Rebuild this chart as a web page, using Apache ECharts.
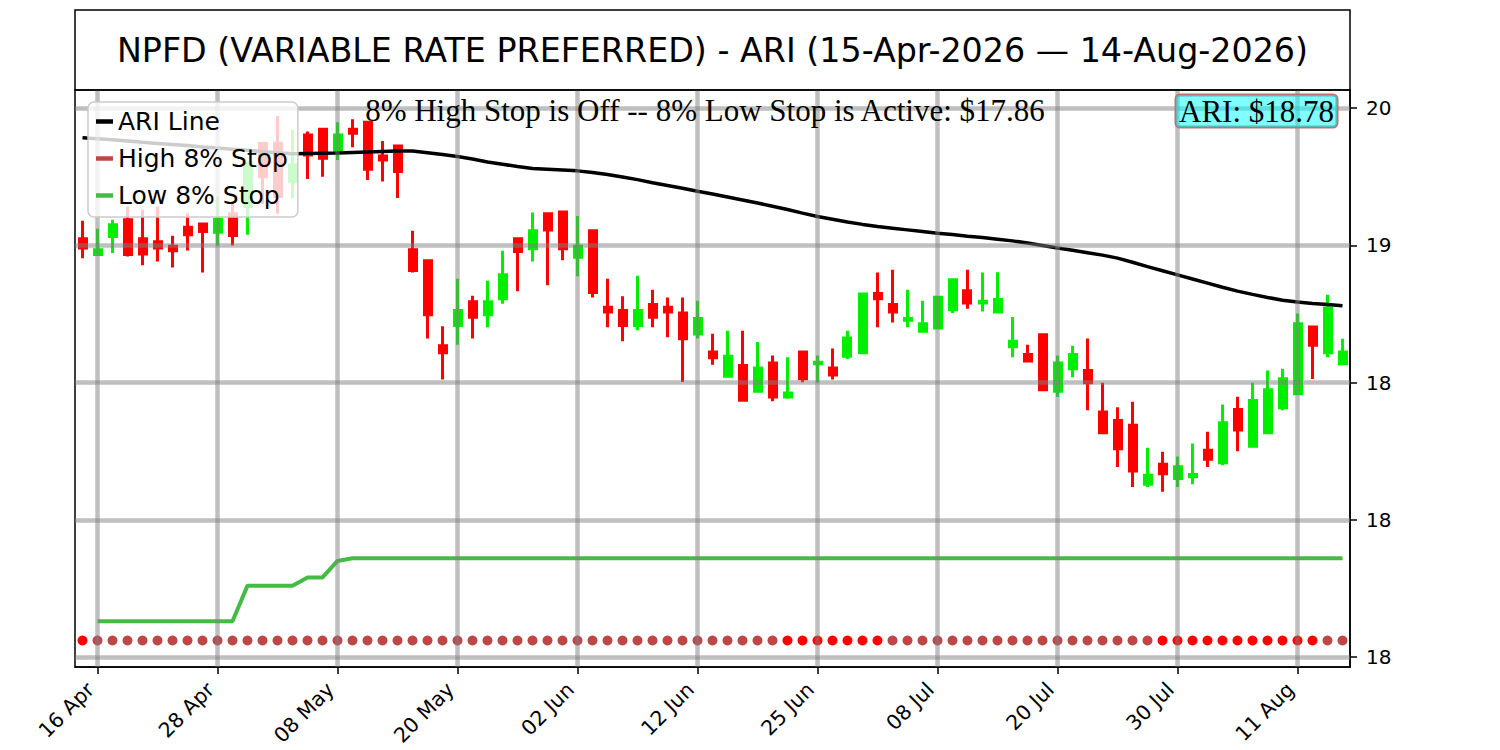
<!DOCTYPE html>
<html><head><meta charset="utf-8">
<script src="https://cdn.jsdelivr.net/npm/echarts@6/dist/echarts.min.js"></script>
<style>html,body{margin:0;padding:0;background:#fff}#c{width:1500px;height:750px}</style>
</head><body><div id="c"></div>
<script>
const dates = ['15 Apr','16 Apr','17 Apr','20 Apr','21 Apr','22 Apr','23 Apr','24 Apr','27 Apr','28 Apr','29 Apr','30 Apr',
'01 May','04 May','05 May','06 May','07 May','08 May','11 May','12 May','13 May','14 May','15 May','18 May','19 May','20 May','21 May','22 May','26 May','27 May','28 May','29 May',
'01 Jun','02 Jun','03 Jun','04 Jun','05 Jun','08 Jun','09 Jun','10 Jun','11 Jun','12 Jun','15 Jun','16 Jun','17 Jun','18 Jun','22 Jun','23 Jun','24 Jun','25 Jun','26 Jun','29 Jun','30 Jun',
'01 Jul','02 Jul','06 Jul','07 Jul','08 Jul','09 Jul','10 Jul','13 Jul','14 Jul','15 Jul','16 Jul','17 Jul','20 Jul','21 Jul','22 Jul','23 Jul','24 Jul','27 Jul','28 Jul','29 Jul','30 Jul','31 Jul',
'03 Aug','04 Aug','05 Aug','06 Aug','07 Aug','10 Aug','11 Aug','12 Aug','13 Aug','14 Aug'];

const xTickLabels = ['16 Apr','28 Apr','08 May','20 May','02 Jun','12 Jun','25 Jun','08 Jul','20 Jul','30 Jul','11 Aug'];
const yTickValues = [17.5, 18.0, 18.5, 19.0, 19.5];
const yTickLabels = ['18', '18', '18', '19', '20'];

const opens = [19.024,18.966,19.032,19.093,19.024,19.013,18.996,19.066,19.077,19.047,
19.115,19.141,19.371,19.372,19.232,19.402,19.423,19.341,19.423,19.448,
19.325,19.362,18.984,18.944,18.634,18.708,18.794,18.747,18.805,19.024,
18.987,19.115,19.121,18.956,19.053,18.774,18.762,18.708,18.784,18.774,
18.753,18.677,18.611,18.523,18.562,18.468,18.571,18.447,18.611,18.568,
18.553,18.596,18.608,18.824,18.784,18.727,18.687,18.699,18.765,18.834,
18.790,18.757,18.630,18.602,18.674,18.468,18.550,18.544,18.393,18.362,
18.344,18.129,18.202,18.150,18.157,18.253,18.208,18.402,18.268,18.317,
18.408,18.459,18.702,18.608,18.568];

const closes = [18.990,18.984,19.075,18.966,18.968,18.990,18.980,19.038,19.050,19.095,
19.036,19.299,19.250,19.178,19.293,19.329,19.317,19.402,19.408,19.277,
19.311,19.269,18.908,18.747,18.608,18.762,18.738,18.794,18.893,18.977,
19.053,19.056,18.987,18.996,18.828,18.757,18.708,18.762,18.738,18.757,
18.659,18.733,18.590,18.596,18.435,18.553,18.447,18.462,18.514,18.574,
18.527,18.662,18.822,18.805,18.757,18.733,18.714,18.811,18.874,18.790,
18.796,18.802,18.650,18.578,18.474,18.571,18.602,18.499,18.317,18.259,
18.178,18.162,18.168,18.193,18.165,18.220,18.353,18.327,18.434,18.474,
18.514,18.714,18.636,18.771,18.611];

const lows = [18.953,18.963,18.972,18.959,18.927,18.941,18.919,18.981,18.901,18.999,
18.999,19.038,19.150,19.115,19.172,19.241,19.250,19.311,19.357,19.238,
19.232,19.172,18.901,18.660,18.511,18.638,18.660,18.701,18.787,18.832,
18.941,18.854,18.945,18.887,18.810,18.701,18.650,18.690,18.701,18.665,
18.502,18.660,18.565,18.519,18.432,18.468,18.432,18.441,18.501,18.501,
18.511,18.586,18.608,18.701,18.719,18.701,18.687,18.696,18.753,18.769,
18.759,18.757,18.592,18.578,18.471,18.447,18.519,18.399,18.317,18.192,
18.119,18.119,18.102,18.119,18.129,18.192,18.199,18.250,18.268,18.317,
18.399,18.459,18.513,18.592,18.568];

const highs = [19.089,19.060,19.093,19.141,19.129,19.141,19.035,19.117,19.077,19.178,
19.159,19.305,19.371,19.471,19.420,19.414,19.423,19.448,19.459,19.452,
19.380,19.362,19.053,18.944,18.705,18.878,18.816,18.871,18.980,19.024,
19.119,19.119,19.121,19.107,19.053,18.878,18.814,18.889,18.838,18.810,
18.810,18.798,18.678,18.689,18.689,18.648,18.598,18.592,18.611,18.598,
18.624,18.689,18.822,18.901,18.911,18.838,18.798,18.816,18.874,18.911,
18.901,18.902,18.739,18.638,18.674,18.598,18.634,18.660,18.499,18.410,
18.430,18.262,18.248,18.230,18.278,18.321,18.420,18.448,18.499,18.544,
18.550,18.751,18.702,18.820,18.659];

const ariLine = [19.392,19.388,19.384,19.380,19.375,19.371,19.367,19.363,19.358,19.354,
19.350,19.346,19.341,19.337,19.333,19.334,19.335,19.336,19.338,19.340,
19.342,19.343,19.343,19.337,19.331,19.323,19.314,19.303,19.295,19.287,
19.280,19.277,19.274,19.271,19.265,19.258,19.249,19.239,19.228,19.218,
19.208,19.197,19.187,19.176,19.165,19.154,19.142,19.130,19.117,19.105,
19.095,19.085,19.076,19.068,19.062,19.056,19.050,19.044,19.039,19.033,
19.028,19.022,19.016,19.008,18.999,18.990,18.982,18.973,18.964,18.953,
18.938,18.922,18.907,18.892,18.877,18.862,18.847,18.833,18.821,18.810,
18.800,18.793,18.788,18.784,18.780];

const lowStop = [null,17.63,17.63,17.63,17.63,17.63,17.63,17.63,17.63,17.63,
17.63,17.76,17.76,17.76,17.76,17.79,17.79,17.85,17.86,17.86,
17.86,17.86,17.86,17.86,17.86,17.86,17.86,17.86,17.86,17.86,
17.86,17.86,17.86,17.86,17.86,17.86,17.86,17.86,17.86,17.86,
17.86,17.86,17.86,17.86,17.86,17.86,17.86,17.86,17.86,17.86,
17.86,17.86,17.86,17.86,17.86,17.86,17.86,17.86,17.86,17.86,
17.86,17.86,17.86,17.86,17.86,17.86,17.86,17.86,17.86,17.86,
17.86,17.86,17.86,17.86,17.86,17.86,17.86,17.86,17.86,17.86,
17.86,17.86,17.86,17.86,17.86];

const highStop = [17.56,17.56,17.56,17.56,17.56,17.56,17.56,17.56,17.56,17.56,
17.56,17.56,17.56,17.56,17.56,17.56,17.56,17.56,17.56,17.56,
17.56,17.56,17.56,17.56,17.56,17.56,17.56,17.56,17.56,17.56,
17.56,17.56,17.56,17.56,17.56,17.56,17.56,17.56,17.56,17.56,
17.56,17.56,17.56,17.56,17.56,17.56,17.56,17.56,17.56,17.56,
17.56,17.56,17.56,17.56,17.56,17.56,17.56,17.56,17.56,17.56,
17.56,17.56,17.56,17.56,17.56,17.56,17.56,17.56,17.56,17.56,
17.56,17.56,17.56,17.56,17.56,17.56,17.56,17.56,17.56,17.56,
17.56,17.56,17.56,17.56,17.56];

// 1 = highlighted (bright red) stop dot
const highStopHit = [1,0,0,0,0,0,0,0,0,0,
0,0,0,0,0,0,0,0,0,0,
0,0,0,0,0,0,0,0,0,0,
0,0,0,0,0,0,0,0,0,0,
0,0,0,0,0,0,0,1,1,1,
1,1,1,1,0,0,0,0,0,0,
0,0,0,0,0,0,0,0,0,0,
0,0,1,1,1,1,1,1,1,1,
1,1,1,0,0];

const ticker = 'NPFD (VARIABLE RATE PREFERRED)';
const startLabel = '15-Apr-2026', endLabel = '14-Aug-2026';
const lowStopActive = lowStop[lowStop.length - 1];
const ariLast = ariLine[ariLine.length - 1];

const UP = '#00ee00', DOWN = '#ff0000', STOPRED = '#bd4747', STOPGREEN = '#45bb45';
const isTick = (idx, val) => xTickLabels.indexOf(val !== undefined ? val : dates[idx]) >= 0;

const chart = echarts.init(document.getElementById('c'), null, {renderer: 'svg'});
chart.setOption({
  animation: false,
  backgroundColor: '#fff',
  grid: {left: 75, right: 150, top: 90, bottom: 83, show: true, borderColor: '#000', borderWidth: 1.5, backgroundColor: 'transparent',
    containLabel: false, outerBoundsMode: 'none'},
  xAxis: {
    type: 'category', data: dates, boundaryGap: true,
    axisLine: {show: true, onZero: false, lineStyle: {color: '#000', width: 1.5}},
    axisTick: {show: true, alignWithLabel: true, interval: isTick, length: 7, lineStyle: {color: '#000', width: 1.5}},
    axisLabel: {interval: isTick, rotate: 45, fontSize: 20.5, fontFamily: 'DejaVu Sans', color: '#000', margin: 12, padding: [0, 10, 0, 0]},
    splitLine: {show: false}
  },
  yAxis: {
    type: 'value', position: 'right', min: 17.4636, max: 19.5656, scale: true,
    axisLine: {show: true, lineStyle: {color: '#000', width: 1.5}},
    axisTick: {show: true, length: 7, customValues: yTickValues, lineStyle: {color: '#000', width: 1.5}},
    axisLabel: {customValues: yTickValues, fontSize: 20, fontFamily: 'DejaVu Sans', color: '#000', margin: 16,
      formatter: v => { const k = yTickValues.findIndex(t => Math.abs(t - v) < 1e-6); return k >= 0 ? yTickLabels[k] : ''; }},
    splitLine: {show: false}
  },
  legend: {
    show: true, orient: 'vertical', left: 88, top: 102, padding: [7, 10, 9, 8], itemGap: 12,
    itemWidth: 17, itemHeight: 4.5, backgroundColor: 'rgba(255,255,255,0.8)', borderColor: '#cccccc',
    borderWidth: 1.5, borderRadius: 6, selectedMode: false, z: 20,
    textStyle: {fontSize: 25, fontFamily: 'DejaVu Sans', color: '#000'},
    data: [
      {name: 'ARI Line', icon: 'rect', itemStyle: {color: '#000', opacity: 1}},
      {name: 'High 8% Stop', icon: 'rect', itemStyle: {color: STOPRED, opacity: 1}},
      {name: 'Low 8% Stop', icon: 'rect', itemStyle: {color: STOPGREEN, opacity: 1}}
    ]
  },
  series: [
    {
      type: 'candlestick', name: 'Price', z: 2, barWidth: 7.5,
      data: dates.map((d, i) => [opens[i], closes[i], lows[i], highs[i]]),
      itemStyle: {color: UP, color0: DOWN, borderColor: UP, borderColor0: DOWN, borderWidth: 3, borderColorDoji: DOWN}
    },
    {
      type: 'line', name: 'gridlines', data: [], silent: true, z: 3,
      markLine: {
        silent: true, symbol: ['none', 'none'], label: {show: false}, animation: false,
        lineStyle: {color: 'rgba(128,128,128,0.5)', width: 4.5, type: 'solid'},
        emphasis: {disabled: true},
        data: xTickLabels.map(d => ({xAxis: d})).concat(yTickValues.map(v => ({yAxis: v})))
      }
    },
    {
      type: 'line', name: 'ARI Line', data: ariLine, z: 4, showSymbol: false, symbol: 'none',
      lineStyle: {color: '#000', width: 3.5}, itemStyle: {color: '#000'}
    },
    {
      type: 'scatter', name: 'High 8% Stop', z: 4, symbolSize: 10,
      data: highStop.map((v, i) => ({value: v, itemStyle: {color: highStopHit[i] ? '#ff0000' : STOPRED, opacity: 1}})),
      itemStyle: {color: STOPRED, opacity: 1}
    },
    {
      type: 'line', name: 'Low 8% Stop', data: lowStop, z: 4, showSymbol: false, symbol: 'none',
      lineStyle: {color: STOPGREEN, width: 4}, itemStyle: {color: STOPGREEN}
    }
  ],
  graphic: [
    {type: 'rect', z: 100, shape: {x: 75, y: 10, width: 1275, height: 80}, style: {fill: 'none', stroke: '#000', lineWidth: 1.5}},
    {type: 'text', z: 100, x: 712.5, y: 50, style: {text: ticker + ' - ARI (' + startLabel + ' \u2014 ' + endLabel + ')', font: '33.3px "DejaVu Sans"', fill: '#000', align: 'center', verticalAlign: 'middle'}},
    {type: 'text', z: 100, x: 705, y: 110, style: {text: '8% High Stop is Off -- 8% Low Stop is Active: $' + lowStopActive.toFixed(2), font: '31px "Liberation Serif"', fill: '#000', align: 'center', verticalAlign: 'middle'}},
    {type: 'text', z: 100, x: 1337, y: 111, style: {text: 'ARI: $' + ariLast.toFixed(2), font: '31px "Liberation Serif"', fill: '#000', align: 'right', verticalAlign: 'middle',
      backgroundColor: 'rgba(0,255,255,0.5)', borderColor: '#c07070', borderWidth: 1.5, borderRadius: 4, padding: [1, 3, 0, 3]}}
  ]
});
</script></body></html>
